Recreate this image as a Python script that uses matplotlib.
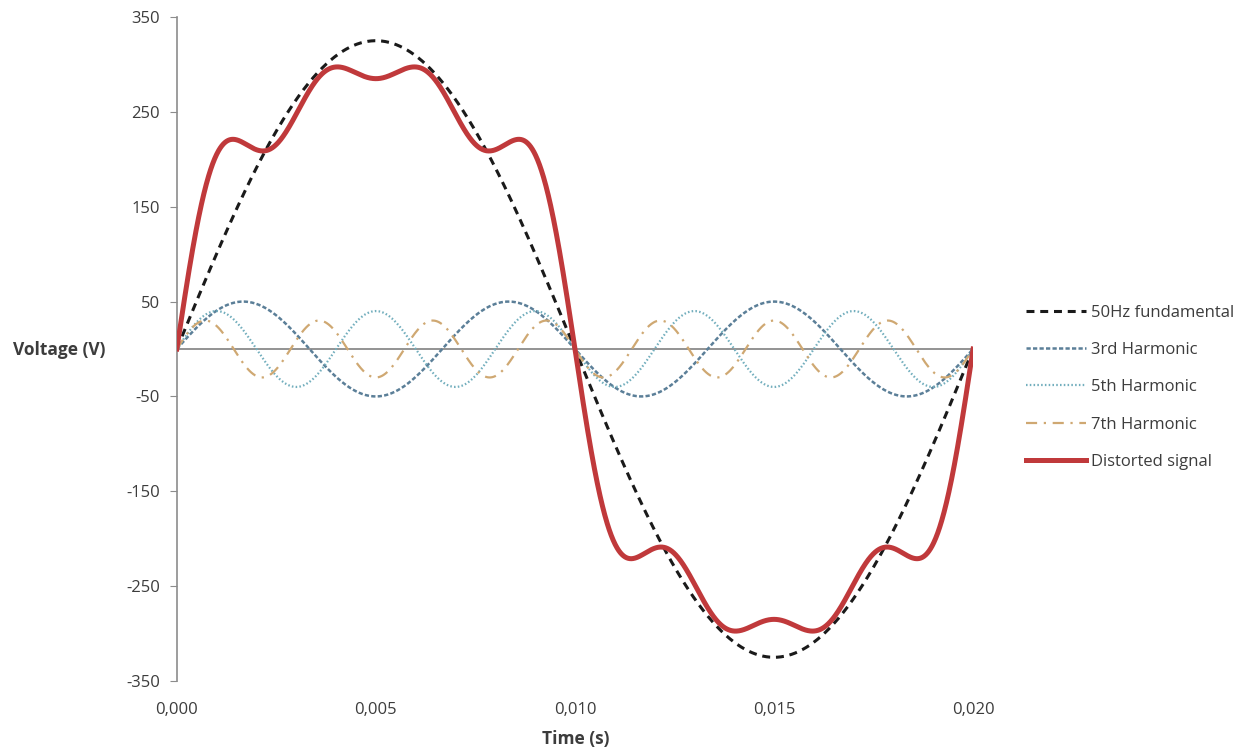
"""
Fundamental 50 Hz voltage with 3rd, 5th and 7th harmonics and the resulting distorted signal
"""

import numpy as np
import matplotlib.pyplot as plt
from matplotlib.ticker import FuncFormatter

# Components: harmonic order and peak amplitude (V)
fundamental_freq = 50  # Hz
harmonic_orders = [1, 3, 5, 7]
amplitudes = [325, 50, 40, 30]
series_labels = ['50Hz fundamental', '3rd Harmonic', '5th Harmonic', '7th Harmonic']
distorted_label = 'Distorted signal'

x_ticks = [0.000, 0.005, 0.010, 0.015, 0.020]
y_ticks = [-350, -250, -150, -50, 50, 150, 250, 350]

# Styles
colors = ['#1a1a1a', '#5b7f98', '#72aebd', '#cfa872']
styles = [(0, (2.6, 1.9)), (0, (1.7, 0.9)), (0, (0.7, 1.0)), (0, (5, 3, 1, 3))]
widths = [2.2, 1.8, 1.6, 1.6]
red = '#c0393b'

plt.rcParams['font.family'] = ['Open Sans', 'DejaVu Sans']
plt.rcParams['axes.unicode_minus'] = False

t = np.linspace(0, 0.02, 2001)
waves = [a * np.sin(2 * np.pi * fundamental_freq * n * t)
         for n, a in zip(harmonic_orders, amplitudes)]
distorted = np.sum(waves, axis=0)

fig = plt.figure(figsize=(12.54, 7.52), dpi=100)
ax = fig.add_axes([0.141, 0.0944, 0.635, 0.883])

ax.axhline(0, color='#808080', linewidth=1.2, zorder=1)

handles = []
for w, lab, c, ls, lw in zip(waves, series_labels, colors, styles, widths):
    h, = ax.plot(t, w, color=c, linestyle=ls, linewidth=lw, label=lab, zorder=2)
    handles.append(h)
h, = ax.plot(t, distorted, color=red, linewidth=3.6, label=distorted_label, zorder=3)
handles.append(h)

ax.set_xlim(0, 0.02)
ax.set_ylim(-350, 350)
ax.set_yticks(y_ticks)
ax.set_xticks(x_ticks)
ax.xaxis.set_major_formatter(FuncFormatter(lambda v, p: f'{v:.3f}'.replace('.', ',')))

for s in ['top', 'right', 'bottom']:
    ax.spines[s].set_visible(False)
ax.spines['left'].set_color('#8c8c8c')
ax.spines['left'].set_linewidth(1.2)
ax.tick_params(axis='y', direction='out', length=5, color='#8c8c8c',
               labelsize=12, labelcolor='#3c3c3c', pad=7)
ax.tick_params(axis='x', length=0, labelsize=12, labelcolor='#3c3c3c', pad=15)

fig.text(0.010, 0.535, 'Voltage (V)', fontsize=12.5, fontweight='bold',
         color='#3c3c3c', va='center', ha='left')
fig.text(0.459, 0.017, 'Time (s)', fontsize=12.5, fontweight='bold',
         color='#3c3c3c', va='center', ha='center')

fig.legend(handles=handles, loc='center left', bbox_to_anchor=(0.8065, 0.485),
           frameon=False, fontsize=12, labelcolor='#3c3c3c',
           handlelength=3.6, handletextpad=0.3, labelspacing=1.28)

plt.savefig('out.png', dpi=100)
